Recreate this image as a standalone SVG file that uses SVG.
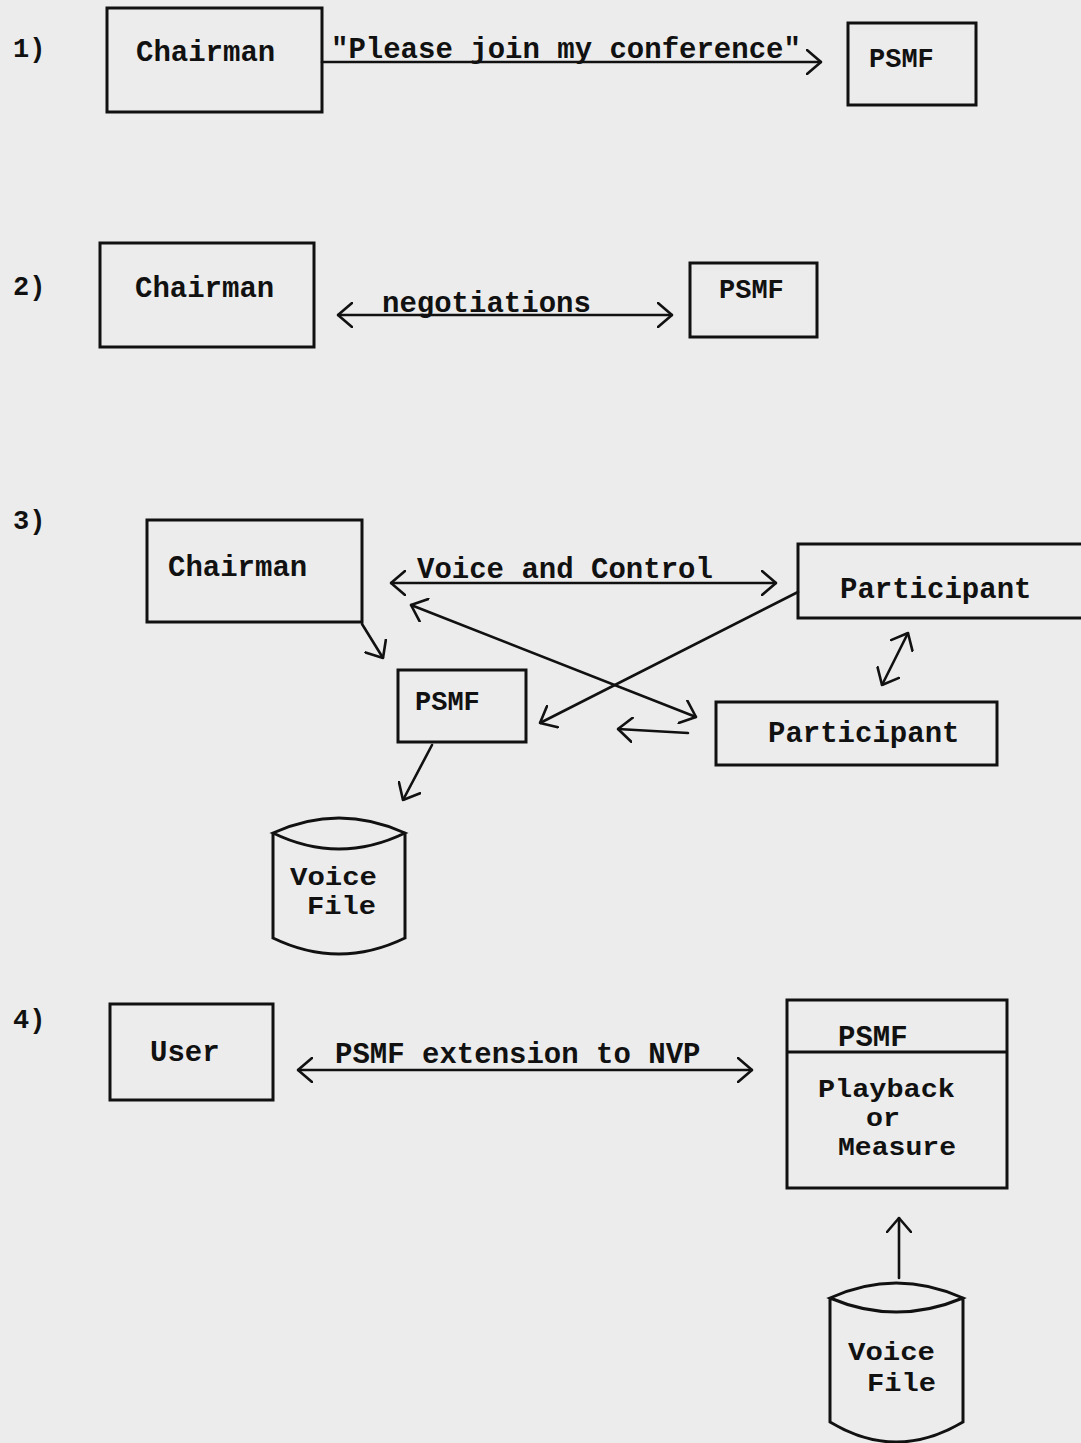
<svg xmlns="http://www.w3.org/2000/svg" width="1081" height="1443" viewBox="0 0 1081 1443">
  <style>
    .box { fill: none; stroke: #111; stroke-width: 3; }
    .cyl { fill: none; stroke: #111; stroke-width: 3; stroke-linecap: round; }
    .edge { fill: none; stroke: #111; stroke-width: 2.6; stroke-linecap: round; }
    .t { font-family: "Liberation Mono", "DejaVu Sans Mono", monospace; font-weight: bold; font-size: 29px; fill: #111; }
    .num { font-family: "Liberation Mono", "DejaVu Sans Mono", monospace; font-weight: bold; font-size: 27px; fill: #111; }
    .sm { font-size: 27px; }
    .st { font-size: 25px; }
  </style>
  <defs>
    <!-- open chevron arrowhead, typewriter-sketch style -->
    <marker id="arr" viewBox="0 0 16 26" refX="15" refY="13" markerWidth="16" markerHeight="26" markerUnits="userSpaceOnUse" orient="auto-start-reverse">
      <path d="M1,1 L15,13 L1,25" fill="none" stroke="#111" stroke-width="2.6" stroke-linecap="round" stroke-linejoin="round"/>
    </marker>
  </defs>

  <rect width="1081" height="1443" fill="#ececec"/>

  <!-- step numbers -->
  <text class="num" x="13" y="57">1)</text>
  <text class="num" x="13" y="295">2)</text>
  <text class="num" x="13" y="529">3)</text>
  <text class="num" x="13" y="1028">4)</text>

  <!-- step 1 -->
  <g id="s1-chairman">
    <rect class="box" x="107" y="8" width="215" height="104"/>
    <text class="t" x="136" y="61">Chairman</text>
  </g>
  <g id="s1-psmf">
    <rect class="box" x="848" y="23" width="128" height="82"/>
    <text class="t sm" x="869" y="67">PSMF</text>
  </g>

  <!-- step 2 -->
  <g id="s2-chairman">
    <rect class="box" x="100" y="243" width="214" height="104"/>
    <text class="t" x="135" y="297">Chairman</text>
  </g>
  <g id="s2-psmf">
    <rect class="box" x="690" y="263" width="127" height="74"/>
    <text class="t sm" x="719" y="298">PSMF</text>
  </g>

  <!-- step 3 -->
  <g id="s3-chairman">
    <rect class="box" x="147" y="520" width="215" height="102"/>
    <text class="t" x="168" y="576">Chairman</text>
  </g>
  <g id="s3-participant-a">
    <rect class="box" x="798" y="544" width="295" height="74"/>
    <text class="t" x="840" y="598">Participant</text>
  </g>
  <g id="s3-participant-b">
    <rect class="box" x="716" y="702" width="281" height="63"/>
    <text class="t" x="768" y="742">Participant</text>
  </g>
  <g id="s3-psmf">
    <rect class="box" x="398" y="670" width="128" height="72"/>
    <text class="t sm" x="415" y="710">PSMF</text>
  </g>
  <g id="s3-voicefile">
    <path class="cyl" d="M273,833 Q339,803 405,833 Q339,865 273,833 Z M273,833 V938 Q339,970 405,938 V833"/>
    <text class="t st" x="290" y="885" textLength="87" lengthAdjust="spacingAndGlyphs">Voice</text>
    <text class="t st" x="307" y="914" textLength="69" lengthAdjust="spacingAndGlyphs">File</text>
  </g>

  <!-- step 4 -->
  <g id="s4-user">
    <rect class="box" x="110" y="1004" width="163" height="96"/>
    <text class="t" x="150" y="1061">User</text>
  </g>
  <g id="s4-psmf">
    <rect class="box" x="787" y="1000" width="220" height="188"/>
    <line class="box" x1="787" y1="1052" x2="1007" y2="1052"/>
    <text class="t" x="838" y="1046" font-size="26">PSMF</text>
    <text class="t st" x="818" y="1097" textLength="137" lengthAdjust="spacingAndGlyphs">Playback</text>
    <text class="t st" x="866" y="1126" textLength="34" lengthAdjust="spacingAndGlyphs">or</text>
    <text class="t st" x="838" y="1155" textLength="118" lengthAdjust="spacingAndGlyphs">Measure</text>
  </g>
  <g id="s4-voicefile">
    <path class="cyl" d="M830,1298 Q896,1268 963,1298 Q896,1326 830,1298 Z M830,1298 V1422 Q896,1462 963,1422 V1298"/>
    <text class="t st" x="848" y="1360" textLength="87" lengthAdjust="spacingAndGlyphs">Voice</text>
    <text class="t st" x="867" y="1391" textLength="69" lengthAdjust="spacingAndGlyphs">File</text>
  </g>

  <!-- connectors and their labels -->
  <g id="connectors">
    <line class="edge" x1="322" y1="62" x2="821" y2="62" marker-end="url(#arr)"/>
    <text class="t" x="331" y="58" font-size="28">"Please join my conference"</text>

    <line class="edge" x1="338" y1="315" x2="672" y2="315" marker-start="url(#arr)" marker-end="url(#arr)"/>
    <text class="t" x="382" y="312">negotiations</text>

    <line class="edge" x1="391" y1="583" x2="776" y2="583" marker-start="url(#arr)" marker-end="url(#arr)"/>
    <text class="t" x="417" y="578">Voice and Control</text>

    <line class="edge" x1="362" y1="624" x2="383" y2="658" marker-end="url(#arr)"/>
    <line class="edge" x1="411" y1="605" x2="696" y2="717" marker-start="url(#arr)" marker-end="url(#arr)"/>
    <line class="edge" x1="798" y1="592" x2="540" y2="723" marker-end="url(#arr)"/>
    <line class="edge" x1="688" y1="733" x2="618" y2="729" marker-end="url(#arr)"/>
    <line class="edge" x1="908" y1="633" x2="882" y2="685" marker-start="url(#arr)" marker-end="url(#arr)"/>
    <line class="edge" x1="432" y1="745" x2="403" y2="800" marker-end="url(#arr)"/>

    <line class="edge" x1="298" y1="1070" x2="752" y2="1070" marker-start="url(#arr)" marker-end="url(#arr)"/>
    <text class="t" x="335" y="1063">PSMF extension to NVP</text>

    <line class="edge" x1="899" y1="1278" x2="899" y2="1218" marker-end="url(#arr)"/>
  </g>
</svg>
